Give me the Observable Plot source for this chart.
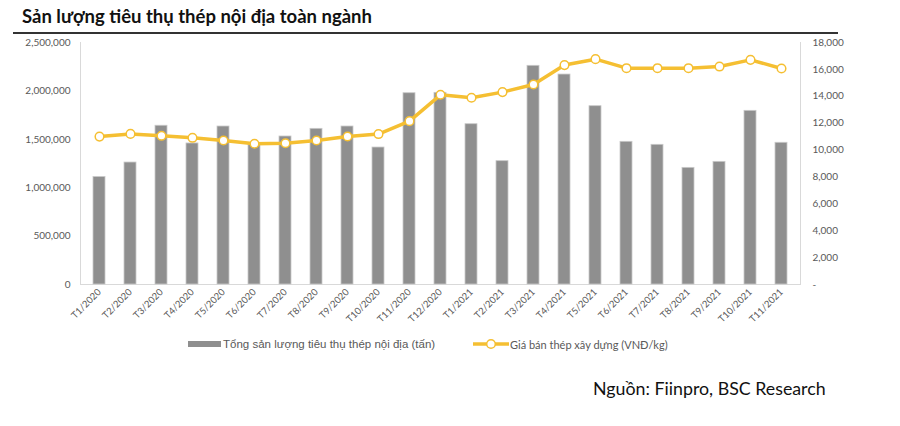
<!DOCTYPE html>
<html>
<head>
<meta charset="utf-8">
<script src="https://cdn.jsdelivr.net/npm/d3@7"></script>
<script src="https://cdn.jsdelivr.net/npm/@observablehq/plot@0.6"></script>
<style>
  body { margin: 0; background: white; width: 900px; height: 426px; overflow: hidden; font-family: Lato, "Open Sans", sans-serif; }
  #title { position: absolute; left: 22px; top: 5px; font: bold 18.5px Lato, sans-serif; color: #111; white-space: nowrap; }
  #rule { position: absolute; left: 13px; top: 32px; width: 825px; height: 2px; background: #333; }
  #chart { position: absolute; left: 0; top: 35px; width: 900px; height: 300px; }
  #chart svg { max-width: none !important; }
  #legend { position: absolute; top: 336px; left: 0; width: 900px; height: 16px; }
  .li { position: absolute; top: 0; display: flex; align-items: center; height: 16px; white-space: nowrap; color: #595959; }
  #source { position: absolute; left: 593px; top: 377px; font: 17.8px Lato, sans-serif; color: #111; white-space: nowrap; }
</style>
</head>
<body>
<div id="title">Sản lượng tiêu thụ thép nội địa toàn ngành</div>
<div id="rule"></div>
<div id="chart"></div>
<div id="legend">
  <div class="li" style="left:188px;font:11.5px 'Liberation Sans', Arial, sans-serif;">
    <svg width="33" height="8" style="margin-right:2px"><rect x="0" y="1" width="33" height="6" fill="#8f8f8f"/></svg>Tổng sản lượng tiêu thụ thép nội địa (tấn)
  </div>
  <div class="li" style="left:473px;font:11px Lato, sans-serif;">
    <svg width="36" height="12" style="margin-right:1px"><line x1="0" y1="6" x2="36" y2="6" stroke="#f5bf32" stroke-width="3.5"/><circle cx="18" cy="6" r="4.3" fill="white" stroke="#f5bf32" stroke-width="1.5"/></svg>Giá bán thép xây dựng (VNĐ/kg)
  </div>
</div>
<div id="source">Nguồn: Fiinpro, BSC Research</div>
<script>
const months = ["T1/2020","T2/2020","T3/2020","T4/2020","T5/2020","T6/2020","T7/2020","T8/2020","T9/2020","T10/2020","T11/2020","T12/2020",
  "T1/2021","T2/2021","T3/2021","T4/2021","T5/2021","T6/2021","T7/2021","T8/2021","T9/2021","T10/2021","T11/2021"];
const volume = [1110000,1260000,1640000,1457000,1632000,1445000,1529000,1608000,1632000,1415000,1976000,1980000,
  1656000,1274000,2259000,2169000,1842000,1474000,1443000,1205000,1267000,1794000,1464000];
const price = [11000,11200,11060,10910,10710,10470,10510,10710,11010,11190,12150,14110,
  13890,14310,14880,16320,16760,16090,16090,16090,16210,16710,16070];
const leftTicks = [0,500000,1000000,1500000,2000000,2500000];
const rightTicks = [0,2000,4000,6000,8000,10000,12000,14000,16000,18000];

const leftMax = 2500000, rightMax = 18000;
const k = leftMax / rightMax;
const data = months.map((m, i) => ({month: m, volume: volume[i], price: price[i]}));
const fmt = d3.format(",");
const gold = "#f5bf32";

const chart = Plot.plot({
  width: 900,
  height: 300,
  marginTop: 7,
  marginBottom: 51,
  marginLeft: 80,
  marginRight: 100,
  style: {fontFamily: "Lato, sans-serif", fontSize: "10px", color: "#595959", background: "white", maxWidth: "none"},
  x: {domain: months, paddingInner: 0.62, paddingOuter: 0.322, label: null},
  y: {domain: [0, leftMax], label: null},
  marks: [
    Plot.frame({anchor: "left", stroke: "#d9d9d9"}),
    Plot.frame({anchor: "right", stroke: "#d9d9d9"}),
    Plot.frame({anchor: "bottom", stroke: "#d9d9d9"}),
    Plot.barY(data, {x: "month", y: "volume", fill: "#8f8f8f", stroke: "#c9c9c9", strokeWidth: 0.8}),
    Plot.line(data, {x: "month", y: d => d.price * k, stroke: gold, strokeWidth: 3.5}),
    Plot.dot(data, {x: "month", y: d => d.price * k, r: 4.3, fill: "white", stroke: gold, strokeWidth: 1.5}),
    Plot.axisY(leftTicks, {anchor: "left", tickFormat: fmt, tickSize: 0, tickPadding: 10, label: null}),
    Plot.axisY(rightTicks.map(v => v * k), {anchor: "right", tickSize: 0, tickPadding: 12, label: null,
      tickFormat: d => { const v = Math.round(d / k); return v === 0 ? "-" : fmt(v); }}),
    Plot.axisX({tickRotate: -45, tickSize: 0, tickPadding: 6, fontSize: 9.5, label: null})
  ]
});
document.getElementById("chart").appendChild(chart);
</script>
</body>
</html>
